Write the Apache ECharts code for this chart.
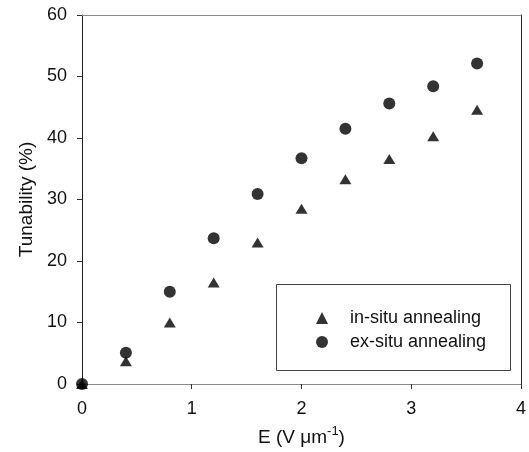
<!DOCTYPE html>
<html>
<head>
<meta charset="utf-8">
<script src="https://cdn.jsdelivr.net/npm/echarts@6/dist/echarts.min.js"></script>
<style>
html,body{margin:0;padding:0;background:#fff;}
#chart{width:529px;height:452px;}
</style>
</head>
<body>
<div id="chart"></div>
<script>
var eField = [0, 0.4, 0.8, 1.2, 1.6, 2.0, 2.4, 2.8, 3.2, 3.6];
var inSitu = [0, 3.7, 10.0, 16.5, 23.0, 28.5, 33.3, 36.6, 40.3, 44.6];
var exSitu = [0, 5.1, 15.0, 23.7, 30.9, 36.7, 41.5, 45.6, 48.4, 52.1];
var seriesNames = ['in-situ annealing', 'ex-situ annealing'];
var xTicks = [0, 1, 2, 3, 4];
var yTicks = [0, 10, 20, 30, 40, 50, 60];

function pairs(xs, ys) { return xs.map(function (x, i) { return [x, ys[i]]; }); }

var FONT = '"Liberation Sans", Arial, sans-serif';
var chart = echarts.init(document.getElementById('chart'), null, {renderer: 'canvas'});
chart.setOption({
  animation: false,
  backgroundColor: '#fff',
  textStyle: {fontFamily: FONT},
  grid: {left: 82, right: 4, top: 15, bottom: 68, containLabel: false},
  xAxis: [{
    type: 'value', min: xTicks[0], max: xTicks[xTicks.length - 1], interval: 1,
    position: 'bottom',
    axisLine: {show: true, onZero: false, lineStyle: {color: '#8a8a8a', width: 1}},
    axisTick: {show: true, inside: false, length: 5, lineStyle: {color: '#333'}},
    axisLabel: {color: '#111', fontSize: 18, fontFamily: FONT, margin: 16},
    splitLine: {show: false},
    name: '{n|E (V μm}{s|-1}{n|)}',
    nameLocation: 'middle', nameGap: 41,
    nameTextStyle: {
      rich: {
        n: {fontSize: 19, fontFamily: FONT, color: '#111', verticalAlign: 'bottom', lineHeight: 22},
        s: {fontSize: 13, fontFamily: FONT, color: '#111', verticalAlign: 'top', lineHeight: 22, padding: [0, 0, 7, 0]}
      }
    }
  }, {
    type: 'value', min: xTicks[0], max: xTicks[xTicks.length - 1], interval: 1,
    position: 'top',
    axisLine: {show: true, onZero: false, lineStyle: {color: '#8a8a8a', width: 1}},
    axisTick: {show: false}, axisLabel: {show: false}, splitLine: {show: false}
  }],
  yAxis: [{
    type: 'value', min: yTicks[0], max: yTicks[yTicks.length - 1], interval: 10,
    position: 'left',
    axisLine: {show: true, onZero: false, lineStyle: {color: '#222', width: 1}},
    axisTick: {show: true, inside: false, length: 5, lineStyle: {color: '#333'}},
    axisLabel: {color: '#111', fontSize: 18, fontFamily: FONT, margin: 15},
    splitLine: {show: false},
    name: 'Tunability (%)', nameLocation: 'middle', nameGap: 46,
    nameTextStyle: {fontSize: 19, fontFamily: FONT, color: '#111'}
  }, {
    type: 'value', min: yTicks[0], max: yTicks[yTicks.length - 1], interval: 10,
    position: 'right',
    axisLine: {show: true, onZero: false, lineStyle: {color: '#222', width: 1}},
    axisTick: {show: false}, axisLabel: {show: false}, splitLine: {show: false}
  }],
  legend: {
    orient: 'vertical', left: 311, top: 304,
    itemWidth: 12, itemHeight: 12, itemGap: 6,
    textStyle: {fontSize: 18, fontFamily: FONT, color: '#111', padding: [0, 0, 0, 17]},
    data: [
      {name: seriesNames[0], icon: 'triangle'},
      {name: seriesNames[1], icon: 'circle'}
    ]
  },
  graphic: [{
    type: 'rect', left: 276, top: 284, z: 0,
    shape: {width: 234, height: 86},
    style: {fill: '#fff', stroke: '#444', lineWidth: 1}
  }],
  series: [{
    name: seriesNames[0], type: 'scatter', symbol: 'triangle', symbolSize: [12, 10],
    itemStyle: {color: '#000'}, data: pairs(eField, inSitu), z: 3
  }, {
    name: seriesNames[1], type: 'scatter', symbol: 'circle', symbolSize: 12,
    itemStyle: {color: '#000'}, data: pairs(eField, exSitu), z: 4
  }]
});
</script>
</body>
</html>
